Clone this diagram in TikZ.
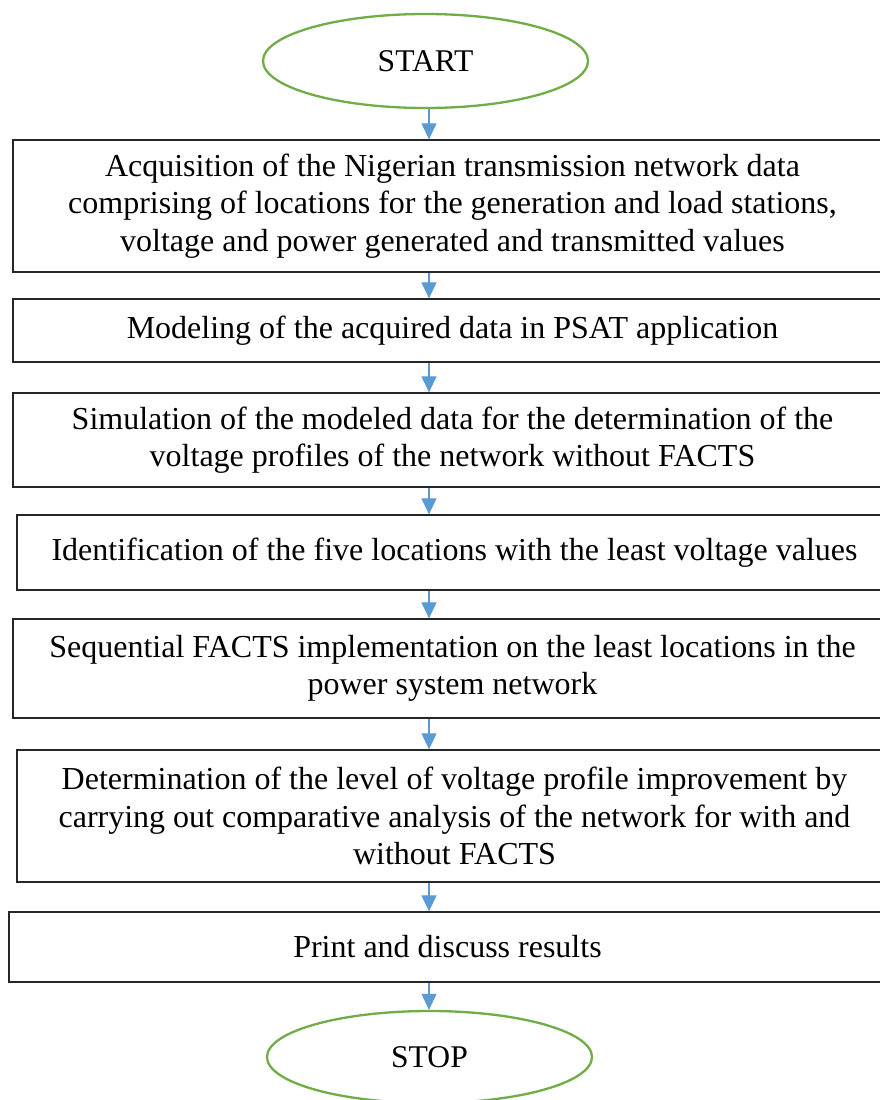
\documentclass[tikz,border=0pt]{standalone}
\usepackage{fontspec}
\setmainfont{Liberation Serif}
\usetikzlibrary{shapes.geometric,arrows.meta}
\definecolor{termgreen}{HTML}{70AD47}
\definecolor{flowblue}{HTML}{5B9BD5}
\tikzset{
  terminal/.style={ellipse, draw=termgreen, line width=2.3pt, inner sep=0pt,
    minimum width=325pt, font=\fontsize{31.6}{37}\selectfont},
  stepbox/.style={rectangle, draw=black!85, line width=1.3pt, inner sep=0pt,
    align=center, font=\fontsize{32}{37.5}\selectfont},
  flow/.style={draw=flowblue, line width=1.1pt,
    -{Triangle[length=16pt,width=15pt]}, fill=flowblue}
}
\begin{document}
\begin{tikzpicture}[x=1pt,y=-1pt]
  \clip (0,0) rectangle (880,1100);
  \fill[white] (0,0) rectangle (880,1100);

  % vertical line along which all the arrows run
  \coordinate (axis) at (429,0);

  \node[terminal, minimum height=94pt] (start) at (425.5,61) {START};

  \node[stepbox, minimum width=879pt, minimum height=132pt] (b1) at (452.5,206)
    {Acquisition of the Nigerian transmission network data\\
     comprising of locations for the generation and load stations,\\
     voltage and power generated and transmitted values};

  \node[stepbox, minimum width=879pt, minimum height=63pt] (b2) at (452.5,330.5)
    {Modeling of the acquired data in PSAT application};

  \node[stepbox, minimum width=879pt, minimum height=94pt] (b3) at (452.5,440)
    {Simulation of the modeled data for the determination of the\\
     voltage profiles of the network without FACTS};

  \node[stepbox, minimum width=875pt, minimum height=75pt] (b4) at (454.5,552.5)
    {Identification of the five locations with the least voltage values};

  \node[stepbox, minimum width=879pt, minimum height=99pt] (b5) at (452.5,668.5)
    {Sequential FACTS implementation on the least locations in the\\
     power system network};

  \node[stepbox, minimum width=875pt, minimum height=132pt] (b6) at (454.5,816)
    {Determination of the level of voltage profile improvement by\\
     carrying out comparative analysis of the network for with and\\
     without FACTS};

  \node[stepbox, minimum width=877pt, minimum height=70pt] (b7) at (447.5,947)
    {Print and discuss results};

  \node[terminal, minimum height=92pt] (stop) at (429.5,1057) {STOP};

  \draw[flow] (start.south -| axis) -- (b1.north -| axis);
  \draw[flow] (b1.south -| axis) -- (b2.north -| axis);
  \draw[flow] (b2.south -| axis) -- (b3.north -| axis);
  \draw[flow] (b3.south -| axis) -- (b4.north -| axis);
  \draw[flow] (b4.south -| axis) -- (b5.north -| axis);
  \draw[flow] (b5.south -| axis) -- (b6.north -| axis);
  \draw[flow] (b6.south -| axis) -- (b7.north -| axis);
  \draw[flow] (b7.south -| axis) -- (stop.north -| axis);
\end{tikzpicture}
\end{document}
